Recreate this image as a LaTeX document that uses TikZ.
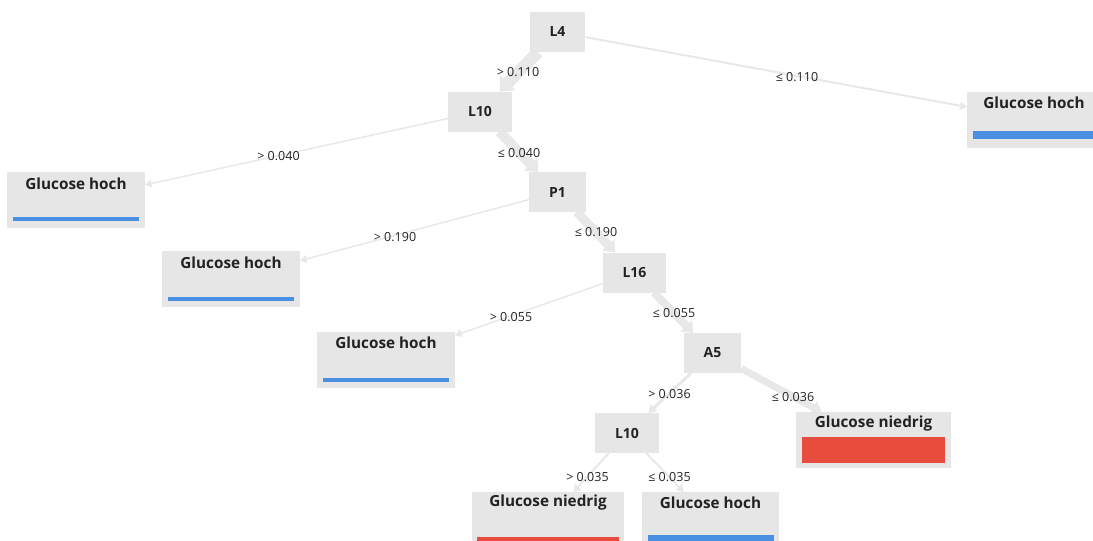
\documentclass[tikz,border=0pt]{standalone}
\usepackage{fontspec}
\setmainfont{Open Sans}
\usetikzlibrary{arrows.meta,backgrounds}
\definecolor{boxc}{RGB}{230,230,230}
\definecolor{edgec}{RGB}{232,232,232}
\definecolor{barblue}{RGB}{74,144,226}
\definecolor{barred}{RGB}{231,76,60}
\definecolor{txt}{RGB}{34,34,34}
\begin{document}
\begin{tikzpicture}[x=1pt,y=-1pt,
 split/.style={fill=boxc, minimum height=40pt, inner xsep=20pt, inner ysep=0pt, outer sep=0pt, font=\fontsize{14}{16}\selectfont\bfseries, text=txt},
 leaf/.style={fill=boxc, minimum height=56pt, minimum width=#1, inner sep=0pt, outer sep=0pt},
 leaftext/.style={font=\fontsize{15.3}{17}\selectfont\bfseries, text=txt, inner sep=0pt},
 cond/.style={font=\fontsize{12.5}{14}\selectfont, text=txt, inner sep=0pt},
 edge/.style={draw=edgec, line width=#1, -{Triangle[length=6pt 0.5, width=6pt 1.2]}},
]
\useasboundingbox (0,0) rectangle (1093,541);
\clip (0,0) rectangle (1093,541);

% split nodes
\node[split] (L4) at (557.5,32) {L4};
\node[split] (L10a) at (480,111.5) {L10};
\node[split] (P1) at (557.5,192) {P1};
\node[split] (L16) at (634.5,272.5) {L16};
\node[split] (A5) at (712.5,353) {A5};
\node[split] (L10b) at (627,433) {L10};

% leaves
\node[leaf=138pt] (R) at (1036,119.5) {};
\node[leaftext] at (1034,103) {Glucose hoch};
\fill[barblue] (973,131) rectangle (1099,139);

\node[leaf=138pt] (H1) at (76,200) {};
\node[leaftext] at (76,184) {Glucose hoch};
\fill[barblue] (13,217) rectangle (139,221);

\node[leaf=138pt] (H2) at (231,279) {};
\node[leaftext] at (231,263) {Glucose hoch};
\fill[barblue] (168,297) rectangle (294,301);

\node[leaf=138pt] (H3) at (386,359.5) {};
\node[leaftext] at (386,343) {Glucose hoch};
\fill[barblue] (323,378) rectangle (449,382);

\node[leaf=155pt] (N1) at (873.5,440) {};
\node[leaftext] at (873.5,424) {Glucose niedrig};
\fill[barred] (802,437) rectangle (945,463);

\node[leaf=152pt] (N2) at (548,520) {};
\node[leaftext] at (548,503) {Glucose niedrig};
\fill[barred] (477,537) rectangle (619,545);

\node[leaf=137pt] (H4) at (710.5,520) {};
\node[leaftext] at (710.5,503) {Glucose hoch};
\fill[barblue] (648,535) rectangle (774,545);

% edges
\begin{pgfonlayer}{background}
\draw[edge=12pt] (L4) -- (L10a);
\draw[edge=2pt] (L4) -- (R);
\draw[edge=1.5pt] (L10a) -- (H1);
\draw[edge=10pt] (L10a) -- (P1);
\draw[edge=1.5pt] (P1) -- (H2);
\draw[edge=9pt] (P1) -- (L16);
\draw[edge=1.5pt] (L16) -- (H3);
\draw[edge=8pt] (L16) -- (A5);
\draw[edge=3pt] (A5) -- (L10b);
\draw[edge=7pt] (A5) -- (N1);
\draw[edge=2pt] (L10b) -- (N2);
\draw[edge=2pt] (L10b) -- (H4);
\end{pgfonlayer}

% conditions
\node[cond] (c1) at (518,72) {> 0.110};
\node[cond] (c2) at (797,77) {≤ 0.110};
\node[cond] (c3) at (278.5,156) {> 0.040};
\node[cond] (c4) at (519,153) {≤ 0.040};
\node[cond] (c5) at (395,237) {> 0.190};
\node[cond] (c6) at (596,232) {≤ 0.190};
\node[cond] (c7) at (511,317) {> 0.055};
\node[cond] (c8) at (674,313) {≤ 0.055};
\node[cond] (c9) at (669.5,394) {> 0.036};
\node[cond] (c10) at (793,397) {≤ 0.036};
\node[cond] (c11) at (587.5,477) {> 0.035};
\node[cond] (c12) at (669.5,477) {≤ 0.035};
\end{tikzpicture}
\end{document}
